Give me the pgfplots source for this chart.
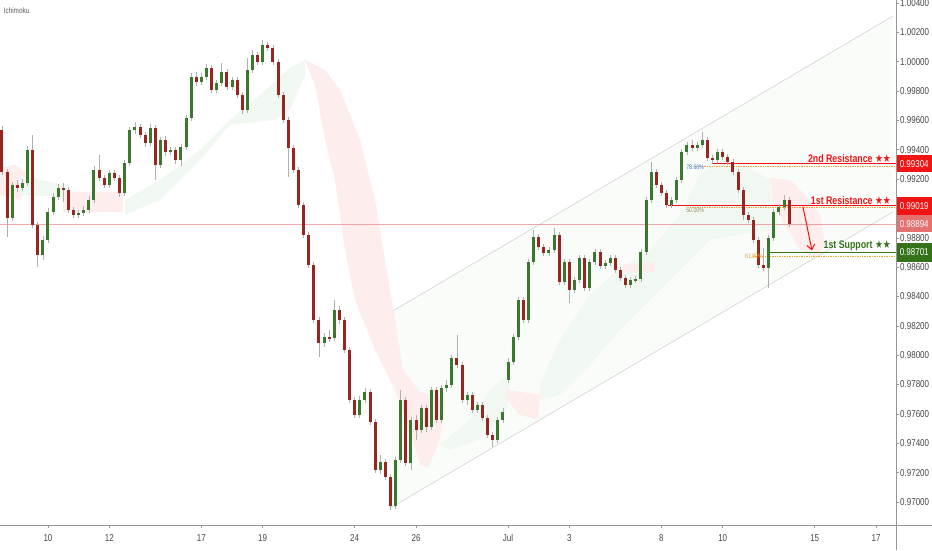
\documentclass[border=0pt]{standalone}
\usepackage{fontspec}
\setmainfont{Liberation Sans}[FakeStretch=0.8]
\newfontfamily\symfont{DejaVu Sans}[FakeStretch=0.8]
\usepackage{pgfplots}
\usepackage{pgfplotstable}
\pgfplotsset{compat=1.18}
\usetikzlibrary{arrows.meta}

\definecolor{upc}{RGB}{58,120,46}
\definecolor{dnc}{RGB}{152,38,32}
\definecolor{wick}{RGB}{175,175,175}
\definecolor{cloudr}{RGB}{253,237,237}
\definecolor{cloudg}{RGB}{240,248,241}
\definecolor{chan}{RGB}{210,210,210}
\definecolor{chanfill}{RGB}{249,252,249}
\definecolor{resred}{RGB}{240,20,20}
\definecolor{supgrn}{RGB}{52,115,26}
\definecolor{lastpx}{RGB}{228,112,112}
\definecolor{fibor}{RGB}{235,165,50}
\definecolor{fibblue}{RGB}{60,120,220}
\definecolor{fibolive}{RGB}{140,140,90}
\definecolor{sep}{RGB}{150,150,150}
\definecolor{ticktxt}{RGB}{70,70,70}

% 4h candles, open high low close
\pgfplotstableread{
o h l c
0.99535 0.99562 0.99228 0.99249
0.99249 0.99269 0.98806 0.98935
0.98935 0.99181 0.98915 0.99160
0.99160 0.99194 0.99113 0.99140
0.99140 0.99201 0.99119 0.99174
0.99174 0.99426 0.99153 0.99399
0.99399 0.99501 0.98867 0.98888
0.98888 0.98908 0.98602 0.98683
0.98683 0.98813 0.98649 0.98786
0.98786 0.99004 0.98765 0.98976
0.98976 0.99106 0.98956 0.99078
0.99078 0.99167 0.99058 0.99140
0.99140 0.99174 0.99044 0.99126
0.99126 0.99147 0.98970 0.98990
0.98990 0.99010 0.98935 0.98956
0.98956 0.98990 0.98935 0.98970
0.98970 0.99017 0.98949 0.98990
0.98990 0.99085 0.98970 0.99058
0.99058 0.99290 0.99038 0.99262
0.99262 0.99364 0.99187 0.99208
0.99208 0.99228 0.99140 0.99160
0.99160 0.99262 0.99140 0.99242
0.99242 0.99262 0.99187 0.99208
0.99208 0.99228 0.99078 0.99106
0.99106 0.99330 0.99085 0.99310
0.99310 0.99555 0.99290 0.99535
0.99535 0.99589 0.99508 0.99555
0.99555 0.99576 0.99480 0.99501
0.99501 0.99521 0.99419 0.99446
0.99446 0.99576 0.99426 0.99548
0.99548 0.99569 0.99194 0.99296
0.99296 0.99487 0.99276 0.99467
0.99467 0.99494 0.99358 0.99385
0.99385 0.99419 0.99364 0.99399
0.99399 0.99419 0.99303 0.99330
0.99330 0.99439 0.99290 0.99419
0.99419 0.99637 0.99399 0.99616
0.99616 0.99923 0.99596 0.99896
0.99896 0.99930 0.99834 0.99862
0.99862 0.99923 0.99841 0.99896
0.99896 0.99984 0.99875 0.99957
0.99957 0.99977 0.99787 0.99807
0.99807 0.99875 0.99787 0.99855
0.99855 0.99991 0.99834 0.99930
0.99930 0.99950 0.99807 0.99828
0.99828 0.99896 0.99807 0.99875
0.99875 0.99896 0.99753 0.99773
0.99773 0.99794 0.99644 0.99671
0.99671 1.00025 0.99651 0.99943
0.99943 1.00080 0.99923 1.00045
1.00045 1.00066 0.99977 0.99998
0.99998 1.00148 0.99977 1.00114
1.00114 1.00134 1.00073 1.00093
1.00093 1.00114 0.99977 0.99998
0.99998 1.00018 0.99753 0.99773
0.99773 0.99794 0.99582 0.99603
0.99603 0.99623 0.99215 0.99412
0.99412 0.99432 0.99242 0.99262
0.99262 0.99283 0.99004 0.99024
0.99024 0.99044 0.98799 0.98820
0.98820 0.98840 0.98595 0.98615
0.98615 0.98636 0.98220 0.98241
0.98241 0.98261 0.97989 0.98084
0.98084 0.98152 0.98057 0.98125
0.98125 0.98173 0.98091 0.98118
0.98118 0.98377 0.98098 0.98309
0.98309 0.98336 0.98214 0.98241
0.98241 0.98261 0.98016 0.98037
0.98037 0.98057 0.97676 0.97696
0.97696 0.97716 0.97573 0.97594
0.97594 0.97723 0.97573 0.97696
0.97696 0.97778 0.97676 0.97750
0.97750 0.97771 0.97526 0.97546
0.97546 0.97567 0.97199 0.97219
0.97219 0.97321 0.97192 0.97274
0.97274 0.97294 0.97151 0.97172
0.97172 0.97192 0.96947 0.96974
0.96974 0.97308 0.96954 0.97287
0.97287 0.97764 0.97267 0.97696
0.97696 0.97716 0.97247 0.97267
0.97267 0.97580 0.97219 0.97560
0.97560 0.97594 0.97424 0.97492
0.97492 0.97662 0.97471 0.97642
0.97642 0.97662 0.97478 0.97512
0.97512 0.97785 0.97492 0.97764
0.97764 0.97785 0.97539 0.97560
0.97560 0.97798 0.97539 0.97778
0.97778 0.97832 0.97750 0.97798
0.97798 0.98002 0.97778 0.97982
0.97982 0.98139 0.97914 0.97934
0.97934 0.97955 0.97676 0.97696
0.97696 0.97750 0.97662 0.97730
0.97730 0.97750 0.97608 0.97628
0.97628 0.97682 0.97608 0.97662
0.97662 0.97682 0.97553 0.97573
0.97573 0.97594 0.97437 0.97458
0.97458 0.97478 0.97376 0.97424
0.97424 0.97580 0.97403 0.97560
0.97560 0.97642 0.97539 0.97614
0.97832 0.97982 0.97812 0.97955
0.97955 0.98146 0.97934 0.98125
0.98125 0.98398 0.98105 0.98377
0.98377 0.98398 0.98220 0.98241
0.98241 0.98656 0.98220 0.98636
0.98636 0.98854 0.98615 0.98806
0.98806 0.98827 0.98718 0.98738
0.98738 0.98758 0.98677 0.98697
0.98697 0.98738 0.98677 0.98718
0.98718 0.98867 0.98697 0.98820
0.98820 0.98840 0.98479 0.98500
0.98500 0.98656 0.98479 0.98636
0.98636 0.98656 0.98357 0.98445
0.98445 0.98534 0.98425 0.98513
0.98513 0.98683 0.98493 0.98663
0.98663 0.98683 0.98438 0.98459
0.98459 0.98656 0.98438 0.98636
0.98636 0.98724 0.98615 0.98704
0.98704 0.98724 0.98588 0.98609
0.98609 0.98649 0.98588 0.98629
0.98629 0.98683 0.98609 0.98663
0.98663 0.98683 0.98561 0.98581
0.98581 0.98602 0.98506 0.98527
0.98527 0.98547 0.98459 0.98479
0.98479 0.98534 0.98459 0.98513
0.98513 0.98540 0.98493 0.98520
0.98520 0.98724 0.98500 0.98704
0.98704 0.99078 0.98683 0.99058
0.99058 0.99317 0.99038 0.99249
0.99249 0.99269 0.99140 0.99160
0.99160 0.99181 0.99085 0.99106
0.99106 0.99126 0.99004 0.99024
0.99024 0.99078 0.99004 0.99058
0.99058 0.99215 0.99038 0.99194
0.99194 0.99405 0.99174 0.99385
0.99385 0.99453 0.99364 0.99433
0.99433 0.99467 0.99392 0.99412
0.99412 0.99453 0.99392 0.99433
0.99433 0.99521 0.99412 0.99467
0.99467 0.99487 0.99324 0.99344
0.99344 0.99364 0.99303 0.99330
0.99330 0.99405 0.99310 0.99385
0.99385 0.99405 0.99330 0.99351
0.99351 0.99371 0.99296 0.99317
0.99317 0.99337 0.99228 0.99249
0.99249 0.99269 0.99106 0.99126
0.99126 0.99147 0.98922 0.98956
0.98956 0.98976 0.98901 0.98922
0.98922 0.98942 0.98765 0.98786
0.98786 0.98806 0.98595 0.98615
0.98615 0.98731 0.98575 0.98595
0.98595 0.98820 0.98459 0.98799
0.98799 0.98997 0.98779 0.98976
0.98976 0.99031 0.98956 0.99010
0.99010 0.99092 0.98990 0.99058
0.99058 0.99078 0.98874 0.98894
}\candles

\begin{document}
\begin{tikzpicture}
\path[use as bounding box] (0,0) rectangle (932pt,550pt);
\begin{axis}[
  at={(0pt,25pt)}, anchor=south west,
  scale only axis, width=896pt, height=525pt,
  xmin=-1.565, xmax=27.65, ymin=0.96843, ymax=1.0042,
  clip=false,
  axis line style={draw=none},
  tick align=outside, major tick length=3pt,
  tick style={sep, line width=0.5pt},
  xtick pos=bottom, ytick pos=right, yticklabel pos=right,
  xtick={0,2,5,7,10,12,15,17,20,22,25,27},
  xticklabels={10,12,17,19,24,26,Jul,3,8,10,15,17},
  ytick={0.970,0.972,0.974,0.976,0.978,0.980,0.982,0.984,0.986,0.988,0.992,0.994,0.996,0.998,1.000,1.002,1.004},
  ticklabel style={font=\fontsize{10}{12}\selectfont, text=ticktxt},
  xticklabel style={yshift=-3pt},
  yticklabel style={anchor=west, inner xsep=1pt,
    /pgf/number format/.cd, fixed, fixed zerofill, precision=5, assume math mode=true},
  scaled y ticks=false,
  candle/.style={draw=none, mark=none, forget plot, error bars/.cd, y dir=both, y explicit, error mark=none},
]
% channel
\addplot[fill=chanfill, draw=none] coordinates {(11.25,0.98302) (27.55,1.00311) (27.55,0.98976) (11.18,0.96961)} -- cycle;
\addplot[chan, line width=0.6pt] coordinates {(11.25,0.98302) (27.55,1.00311)};
\addplot[chan, line width=0.6pt] coordinates {(11.18,0.96961) (27.55,0.98976)};

% ichimoku cloud
\addplot[fill=cloudr, draw=none] coordinates {(-1.565,0.99276) (-1.076,0.99296) (-0.587,0.99228) (-0.913,0.99058) (-1.565,0.99092)} -- cycle;
\addplot[fill=cloudg, draw=none] coordinates {(-0.913,0.99228) (-0.261,0.99194) (0.620,0.99160) (0.620,0.99078) (-0.913,0.99092)} -- cycle;
\addplot[fill=cloudr, draw=none] coordinates {(0.489,0.99113) (2.445,0.99113) (2.445,0.98976) (0.489,0.98976)} -- cycle;
\addplot[fill=cloudg, draw=none] coordinates {(2.511,0.99058) (3.652,0.99194) (4.956,0.99399) (5.934,0.99603) (6.912,0.99773) (7.890,0.99957) (8.380,1.00011) (8.380,0.99909) (7.890,0.99671) (7.401,0.99603) (5.934,0.99569) (4.956,0.99330) (3.652,0.99058) (2.511,0.98956)} -- cycle;
\addplot[fill=cloudr, draw=none] coordinates {(8.380,1.00011) (8.706,0.99841) (9.032,0.99467) (9.358,0.99194) (9.684,0.98718) (10.010,0.98377) (10.662,0.98037) (11.314,0.97764) (11.803,0.97492) (12.129,0.97254) (12.390,0.97233) (12.781,0.97424) (12.944,0.97696) (12.129,0.97750) (11.575,0.97900) (11.314,0.98241) (10.988,0.98649) (10.662,0.99058) (10.173,0.99467) (9.521,0.99807) (9.032,0.99943)} -- cycle;
\addplot[fill=cloudg, draw=none] coordinates {(12.781,0.97390) (13.759,0.97560) (14.411,0.97764) (14.901,0.97853) (15.064,0.97798) (14.966,0.97628) (14.085,0.97424) (13.107,0.97356)} -- cycle;
\addplot[fill=cloudr, draw=none] coordinates {(14.966,0.97764) (16.042,0.97730) (15.977,0.97560) (15.390,0.97594) (14.966,0.97696)} -- cycle;
\addplot[fill=cloudg, draw=none] coordinates {(16.042,0.97798) (16.694,0.98105) (17.672,0.98411) (18.650,0.98595) (19.628,0.98718) (20.606,0.98956) (21.258,0.99228) (21.910,0.99330) (22.726,0.99296) (23.541,0.99194) (23.541,0.98854) (22.562,0.98820) (21.584,0.98786) (20.606,0.98581) (19.628,0.98377) (18.650,0.98173) (17.672,0.97934) (16.694,0.97730) (16.042,0.97696)} -- cycle;
\addplot[fill=cloudr, draw=none] coordinates {(18.748,0.98615) (19.791,0.98636) (19.791,0.98568) (18.748,0.98568)} -- cycle;
\addplot[fill=cloudr, draw=none] coordinates {(23.541,0.99208) (24.193,0.99194) (24.682,0.99092) (25.172,0.98956) (25.334,0.98752) (25.008,0.98663) (24.519,0.98718) (24.030,0.98888) (23.606,0.99058)} -- cycle;

% last price line
\addplot[lastpx, line width=0.6pt, opacity=0.6] coordinates {(-1.565,0.98894) (27.65,0.98894)};

% levels and fibonacci dotted lines
\addplot[fibor, densely dotted, line width=0.7pt] coordinates {(21.10,0.99290) (27.65,0.99290)};
\addplot[fibor, densely dotted, line width=0.7pt] coordinates {(20.93,0.99005) (27.65,0.99005)};
\addplot[fibor, densely dotted, line width=0.7pt] coordinates {(22.99,0.98670) (27.65,0.98670)};
\addplot[resred, line width=1.3pt] coordinates {(21.65,0.99304) (27.65,0.99304)};
\addplot[resred, line width=1.3pt] coordinates {(20.22,0.99019) (27.65,0.99019)};
\addplot[supgrn, line width=1.3pt] coordinates {(23.44,0.98701) (27.65,0.98701)};

% candles: wicks, then bodies
\addplot[candle, error bar style={line width=0.7pt, draw=wick}]
  table[x expr=\coordindex/6-1.5, y expr={(\thisrow{h}+\thisrow{l})/2},
        y error expr={(\thisrow{h}-\thisrow{l})/2}] {\candles};
\addplot[candle, error bar style={line width=3pt, draw=upc}]
  table[x expr=\coordindex/6-1.5,
        y expr={\thisrow{c}<\thisrow{o} ? nan : (\thisrow{o}+\thisrow{c})/2},
        y error expr={abs(\thisrow{c}-\thisrow{o})/2}] {\candles};
\addplot[candle, error bar style={line width=3pt, draw=dnc}]
  table[x expr=\coordindex/6-1.5,
        y expr={\thisrow{c}<\thisrow{o} ? (\thisrow{o}+\thisrow{c})/2 : nan},
        y error expr={abs(\thisrow{c}-\thisrow{o})/2}] {\candles};

% projected move
\addplot[resred, line width=1pt, -{Straight Barb[length=5pt,width=8pt]}] coordinates {(24.617,0.99010) (24.910,0.98714)};

% fib level texts
\node[font=\fontsize{6.5}{7}\selectfont, text=fibblue, inner sep=0pt] at (21.10,0.99283) {78.60\%};
\node[font=\fontsize{6.5}{7}\selectfont, text=fibolive, inner sep=0pt] at (21.10,0.98990) {50.00\%};
\node[font=\fontsize{6.5}{7}\selectfont, text=fibor, inner sep=0pt] at (23.02,0.98674) {61.80\%};

% level labels
\node[anchor=south east, inner sep=1pt, text=resred, font=\fontsize{11}{13}\selectfont\bfseries] at (27.52,0.99304) {2nd Resistance {\symfont ★★}};
\node[anchor=south east, inner sep=1pt, text=resred, font=\fontsize{11}{13}\selectfont\bfseries] at (27.52,0.99019) {1st Resistance {\symfont ★★}};
\node[anchor=south east, inner sep=1pt, text=supgrn, font=\fontsize{11}{13}\selectfont\bfseries] at (27.52,0.98701) {1st Support {\symfont ★★}};

% price scale tags
\node[anchor=west, fill=resred, text=white, minimum width=36pt, minimum height=17pt, inner sep=0pt, font=\fontsize{10}{12}\selectfont] at (27.65,0.99304) {0.99304};
\node[anchor=west, fill=resred, text=white, minimum width=36pt, minimum height=18pt, inner sep=0pt, font=\fontsize{10}{12}\selectfont] at (27.65,0.99019) {0.99019};
\node[anchor=west, fill=lastpx, text=white, minimum width=36pt, minimum height=17pt, inner sep=0pt, font=\fontsize{10}{12}\selectfont] at (27.65,0.98894) {0.98894};
\node[anchor=west, fill=supgrn, text=white, minimum width=36pt, minimum height=19pt, inner sep=0pt, font=\fontsize{10}{12}\selectfont] at (27.65,0.98701) {0.98701};

\node[anchor=west, inner sep=0pt, text=black!65, font=\fontsize{8}{9}\selectfont] at (rel axis cs:0.004,0.979) {Ichimoku};
\end{axis}
\draw[sep, line width=0.6pt] (0,25pt) -- (932pt,25pt);
\draw[sep, line width=0.6pt] (896pt,0) -- (896pt,550pt);
\end{tikzpicture}
\end{document}
